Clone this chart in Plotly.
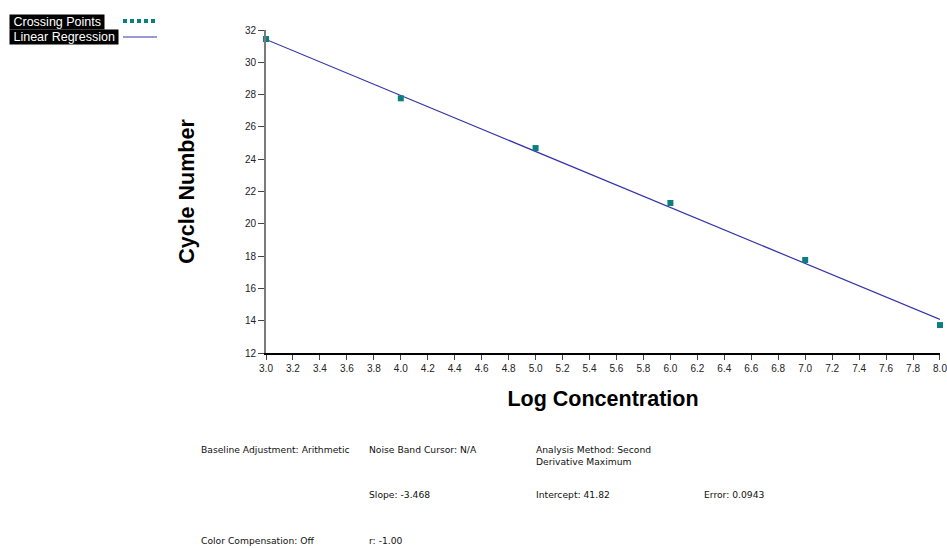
import plotly.graph_objects as go

log_conc = [3.0, 4.0, 5.0, 6.0, 7.0, 8.0]
crossing_points = [31.44, 27.77, 24.69, 21.29, 17.76, 13.73]
slope = -3.468
intercept = 41.82
reg_x = [3.0, 8.0]
reg_y = [intercept + slope * x for x in reg_x]

x_ticks = [round(3.0 + 0.2 * i, 1) for i in range(26)]
x_tick_labels = [f"{v:.1f}" for v in x_ticks]
y_ticks = list(range(12, 33, 2))

footer = [
    ("Baseline Adjustment: Arithmetic", 202, 449),
    ("Noise Band Cursor: N/A", 370, 449),
    ("Analysis Method: Second<br>Derivative Maximum", 537, 449),
    ("Slope: -3.468", 370, 494),
    ("Intercept: 41.82", 537, 494),
    ("Error: 0.0943", 705, 494),
    ("Color Compensation: Off", 202, 540),
    ("r: -1.00", 370, 540),
]

W, H = 947, 548
L, R, T, B = 266, 7, 30, 195
PW, PH = W - L - R, H - T - B

line_color = "#3434a8"
pt_color = "#0a7f80"

fig = go.Figure()
fig.add_trace(go.Scatter(x=reg_x, y=reg_y, mode="lines", name="Linear Regression",
                         line=dict(color=line_color, width=1.2)))
fig.add_trace(go.Scatter(x=log_conc, y=crossing_points, mode="markers", name="Crossing Points",
                         marker=dict(symbol="square", size=6, color=pt_color), cliponaxis=False))

fig.update_layout(
    width=W, height=H, margin=dict(l=L, r=R, t=T, b=B, autoexpand=False),
    plot_bgcolor="white", paper_bgcolor="white", showlegend=False,
    font=dict(family="Liberation Sans, Arial, sans-serif", size=10, color="#222"),
    xaxis=dict(range=[2.9999, 8.0001], tickvals=x_ticks, ticktext=x_tick_labels,
               showgrid=False, zeroline=False, showline=True, linecolor="black", linewidth=1.5,
               ticks="outside", ticklen=5, tickcolor="#444", tickfont=dict(size=10),
               ticklabeloverflow="allow", automargin=False,
               title=dict(text="<b>Log Concentration</b>", font=dict(size=21.5, color="black"), standoff=18)),
    yaxis=dict(range=[12, 32], tickvals=y_ticks, showgrid=False, zeroline=False,
               showline=True, linecolor="#7a7a7a", linewidth=2,
               ticks="outside", ticklen=6, tickcolor="#444", tickfont=dict(size=10),
               automargin=False,
               title=dict(text="<b>Cycle Number</b>", font=dict(size=21.5, color="black"), standoff=44)),
)

# Convert figure pixels to paper (plot-area) coordinates
def px(xp):
    return (xp - L) / PW
def py(yp):
    return (H - B - yp) / PH

fig.add_annotation(xref="paper", yref="paper", x=px(9), y=py(22), xanchor="left", yanchor="middle",
                   text=" Crossing Points ", showarrow=False, bgcolor="black",
                   font=dict(color="white", size=12.5), borderpad=0)
fig.add_annotation(xref="paper", yref="paper", x=px(9), y=py(37), xanchor="left", yanchor="middle",
                   text=" Linear Regression ", showarrow=False, bgcolor="black",
                   font=dict(color="white", size=12.5), borderpad=0)
fig.add_shape(type="line", xref="paper", yref="paper", x0=px(123), x1=px(157), y0=py(21), y1=py(21),
              line=dict(color=pt_color, width=4, dash="4px,3px"))
fig.add_shape(type="line", xref="paper", yref="paper", x0=px(123), x1=px(157), y0=py(37), y1=py(37),
              line=dict(color=line_color, width=1.2))

for text, xp, yp in footer:
    fig.add_annotation(xref="paper", yref="paper", x=px(xp - 2), y=py(yp - 6), xanchor="left", yanchor="top",
                       text=text, showarrow=False, align="left", borderpad=0,
                       font=dict(family="DejaVu Sans, sans-serif", size=9.2, color="#111"))

fig.write_html("out.html")
